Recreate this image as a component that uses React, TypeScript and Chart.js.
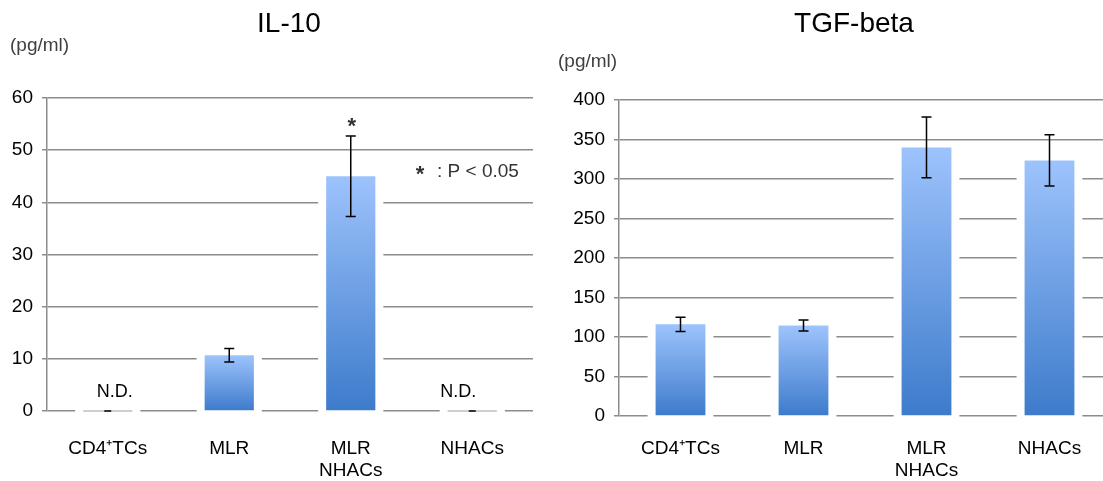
import React, { useEffect, useRef } from 'react';
import { Chart, registerables } from 'chart.js';

Chart.register(...registerables);

// ---------- data ----------
const categories: (string | string[])[] = ['CD4⁺TCs', 'MLR', ['MLR', 'NHACs'], 'NHACs'];

const il10Values = [0, 10.7, 45.0, 0];
const il10Errors = [0, 1.3, 7.7, 0];
const il10NotDetected = [true, false, false, true];
const il10Significant = [false, false, true, false];
const il10Axis = { min: 0, max: 60, step: 10 };

const tgfValues = [116, 114.5, 340, 323.5];
const tgfErrors = [9, 7, 38.5, 32.5];
const tgfNotDetected = [false, false, false, false];
const tgfSignificant = [false, false, false, false];
const tgfAxis = { min: 0, max: 400, step: 50 };

const FONT = '"Liberation Sans", Arial, Helvetica, sans-serif';
const GRID = '#8c8c8c';

interface PanelCfg {
  title: string;
  titleX: number;
  unitX: number;
  unitY: number;
  values: number[];
  errors: number[];
  notDetected: boolean[];
  significant: boolean[];
  axis: { min: number; max: number; step: number };
  axisWidth: number;
  padTop: number;
  padRight: number;
  xAxisHeight: number;
  xLabelPad: number;
  showNote: boolean;
}

function buildConfig(p: PanelCfg): any {
  const barDecor = {
    id: 'barDecor',
    beforeDatasetsDraw(chart: any) {
      const meta = chart.getDatasetMeta(0);
      const c = chart.ctx;
      c.save();
      c.fillStyle = '#ffffff';
      meta.data.forEach((el: any) => {
        const { x, y, base, width } = el.getProps(['x', 'y', 'base', 'width'], true);
        const top = Math.min(y, base);
        c.fillRect(x - width / 2 - 8, top - 2, width + 16, Math.abs(base - y) + 4);
      });
      c.restore();
    },
    afterDatasetsDraw(chart: any) {
      const meta = chart.getDatasetMeta(0);
      const c = chart.ctx;
      const s = chart.scales.y;
      c.save();
      meta.data.forEach((el: any, i: number) => {
        const { x, base, width } = el.getProps(['x', 'base', 'width'], true);
        const v = p.values[i];
        const e = p.errors[i];
        if (v === 0) {
          c.strokeStyle = '#cfcfcf';
          c.lineWidth = 2;
          c.beginPath();
          c.moveTo(x - width / 2, base);
          c.lineTo(x + width / 2, base);
          c.stroke();
        }
        const yt = s.getPixelForValue(v + e);
        const yb = s.getPixelForValue(Math.max(v - e, 0));
        const cap = e === 0 ? 3.5 : 5;
        c.strokeStyle = '#000000';
        c.lineWidth = 1.5;
        c.beginPath();
        c.moveTo(x, yt);
        c.lineTo(x, yb);
        c.moveTo(x - cap, yt);
        c.lineTo(x + cap, yt);
        c.moveTo(x - cap, yb);
        c.lineTo(x + cap, yb);
        c.stroke();
      });
      c.restore();
    },
    afterDraw(chart: any) {
      const c = chart.ctx;
      const s = chart.scales.y;
      const meta = chart.getDatasetMeta(0);
      c.save();
      c.fillStyle = '#000000';
      c.font = `28px ${FONT}`;
      c.textAlign = 'center';
      c.textBaseline = 'middle';
      c.fillText(p.title, p.titleX, 24);

      c.fillStyle = '#404040';
      c.font = `19px ${FONT}`;
      c.textAlign = 'left';
      c.fillText('(pg/ml)', p.unitX, p.unitY);

      meta.data.forEach((el: any, i: number) => {
        const { x, base } = el.getProps(['x', 'base'], true);
        if (p.notDetected[i]) {
          c.fillStyle = '#000000';
          c.font = `18px ${FONT}`;
          c.textAlign = 'center';
          c.textBaseline = 'middle';
          c.fillText('N.D.', x + (i === 0 ? 7 : -14), base - 19);
        }
        if (p.significant[i]) {
          const yt = s.getPixelForValue(p.values[i] + p.errors[i]);
          c.fillStyle = '#333333';
          c.font = `bold 22px ${FONT}`;
          c.textAlign = 'center';
          c.textBaseline = 'alphabetic';
          c.fillText('*', x + 1, yt - 3);
        }
      });

      if (p.showNote) {
        c.fillStyle = '#333333';
        c.font = `bold 22px ${FONT}`;
        c.textAlign = 'center';
        c.textBaseline = 'alphabetic';
        c.fillText('*', 420, 181);
        c.font = `19px ${FONT}`;
        c.textAlign = 'left';
        c.textBaseline = 'middle';
        c.fillText(': P < 0.05', 437, 172);
      }
      c.restore();
    },
  };

  return {
    type: 'bar',
    data: {
      labels: categories,
      datasets: [
        {
          data: p.values,
          backgroundColor: (ctx: any) => {
            const chart = ctx.chart;
            const { chartArea, scales } = chart;
            if (!chartArea || ctx.type !== 'data') return '#6fa0e6';
            const v = ctx.raw as number;
            const top = scales.y.getPixelForValue(v);
            const base = scales.y.getPixelForValue(0);
            if (base - top < 1) return 'rgba(0,0,0,0)';
            const g = chart.ctx.createLinearGradient(0, top, 0, base);
            g.addColorStop(0, '#9dc3fc');
            g.addColorStop(1, '#3d7bcb');
            return g;
          },
          borderWidth: 0,
          categoryPercentage: 1,
          barPercentage: 0.405,
        },
      ],
    },
    options: {
      animation: false,
      responsive: false,
      devicePixelRatio: 1,
      layout: { padding: { top: p.padTop, right: p.padRight, left: 0, bottom: 0 } },
      plugins: {
        legend: { display: false },
        title: { display: false },
        tooltip: { enabled: false },
      },
      scales: {
        x: {
          grid: { display: false, drawTicks: false },
          border: { display: false },
          ticks: {
            color: '#000000',
            font: { family: FONT, size: 19, lineHeight: 1.2 },
            padding: p.xLabelPad,
            maxRotation: 0,
            autoSkip: false,
          },
          afterFit: (scale: any) => {
            scale.height = p.xAxisHeight;
          },
        },
        y: {
          min: p.axis.min,
          max: p.axis.max,
          grid: { color: GRID, lineWidth: 1.5, tickLength: 5, drawTicks: true },
          border: { color: GRID, width: 1.5 },
          ticks: {
            stepSize: p.axis.step,
            color: '#000000',
            font: { family: FONT, size: 19 },
            padding: 9,
          },
          afterFit: (scale: any) => {
            scale.width = p.axisWidth;
          },
        },
      },
    },
    plugins: [barDecor],
  };
}

function Panel({ cfg, left, width }: { cfg: PanelCfg; left: number; width: number }) {
  const ref = useRef<HTMLCanvasElement>(null);
  useEffect(() => {
    const chart = new Chart(ref.current as HTMLCanvasElement, buildConfig(cfg));
    return () => chart.destroy();
  }, []);
  return (
    <canvas
      ref={ref}
      width={width}
      height={481}
      style={{ position: 'absolute', left, top: 0, width, height: 481 }}
    />
  );
}

const leftCfg: PanelCfg = {
  title: 'IL-10',
  titleX: 289,
  unitX: 10,
  unitY: 46,
  values: il10Values,
  errors: il10Errors,
  notDetected: il10NotDetected,
  significant: il10Significant,
  axis: il10Axis,
  axisWidth: 47,
  padTop: 98,
  padRight: 17,
  xAxisHeight: 70,
  xLabelPad: 26,
  showNote: true,
};

const rightCfg: PanelCfg = {
  title: 'TGF-beta',
  titleX: 854 - 550,
  unitX: 8,
  unitY: 62,
  values: tgfValues,
  errors: tgfErrors,
  notDetected: tgfNotDetected,
  significant: tgfSignificant,
  axis: tgfAxis,
  axisWidth: 69,
  padTop: 100,
  padRight: 0,
  xAxisHeight: 65,
  xLabelPad: 21,
  showNote: false,
};

export default function App() {
  return (
    <div style={{ position: 'absolute', left: 0, top: 0, width: 1103, height: 481, background: '#ffffff', overflow: 'hidden' }}>
      <Panel cfg={leftCfg} left={0} width={550} />
      <Panel cfg={rightCfg} left={550} width={561} />
    </div>
  );
}
